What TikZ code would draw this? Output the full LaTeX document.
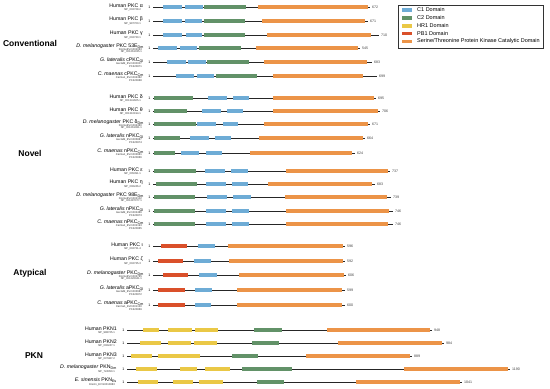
\documentclass[tikz,border=0pt]{standalone}
\usepackage{fontspec}
\setmainfont{Liberation Sans}
\definecolor{cC1}{RGB}{110,172,214}
\definecolor{cC2}{RGB}{98,146,104}
\definecolor{cHR}{RGB}{234,200,70}
\definecolor{cPB}{RGB}{218,80,42}
\definecolor{cKin}{RGB}{236,148,72}
\tikzset{
  bbline/.style={line width=0.75pt, black!85},
  nm/.style={anchor=east, font=\fontsize{5.2}{6}\selectfont, inner sep=0},
  acc/.style={anchor=east, font=\fontsize{2.7}{3}\selectfont, inner sep=0, text=black!80},
  num/.style={anchor=west, font=\fontsize{3.6}{4}\selectfont, inner sep=0, text=black!75},
  one/.style={anchor=east, font=\fontsize{3.6}{4}\selectfont, inner sep=0},
  sect/.style={font=\bfseries\fontsize{8.5}{10}\selectfont, inner sep=0},
  legtext/.style={anchor=west, font=\fontsize{5.5}{6}\selectfont, inner sep=0},
}
% backbone: id, y, xstart, xend, length
\newcommand\prot[5]{%
  \draw[bbline] (#3,#2) -- (#4,#2);
  \node[one] (#1one) at (#3-2.5,#2) {1};
  \node[num] (#1len) at (#4+2,#2) {#5};}
% domain: colour, y, x1, x2
\newcommand\dom[4]{\fill[#1] (#3,#2-1.85) rectangle (#4,#2+1.85);}
% two-line label
\newcommand\hlab[5]{%
  \node[nm] (#1n) at (#2,#3-1.6) {#4};
  \node[acc] (#1a) at (#2-2,#3+2.6) {#5};}
% three-line label
\newcommand\tlab[6]{%
  \node[nm] (#1n) at (#2,#3-2.2) {#4};
  \node[acc] (#1a) at (#2-2,#3+1.6) {#5};
  \node[acc] (#1b) at (#2-2,#3+4.3) {#6};}
\begin{document}
\begin{tikzpicture}[x=1pt,y=-1pt]
\useasboundingbox (0,0) rectangle (550,389);
% section titles
\node[sect] (sConv) at (30,43) {Conventional};
\node[sect] (sNov) at (30,153) {Novel};
\node[sect] (sAty) at (30,273) {Atypical};
\node[sect] (sPKN) at (34,356) {PKN};
% ---------------- Conventional
\hlab{r1}{143}{7}{Human PKC α}{NP\_002728.2}
\prot{r1}{7}{153}{370}{672}
\dom{cC1}{7}{163}{182}\dom{cC1}{7}{185}{203}\dom{cC2}{7}{204}{246}\dom{cKin}{7}{258}{368}
\hlab{r2}{143}{21}{Human PKC β}{NP\_997700.1}
\prot{r2}{21}{153}{368}{671}
\dom{cC1}{21}{163}{182}\dom{cC1}{21}{185}{202}\dom{cC2}{21}{204}{245}\dom{cKin}{21}{262}{365}
\hlab{r3}{143}{35}{Human PKC γ}{NP\_002730.1}
\prot{r3}{35}{153}{379}{710}
\dom{cC1}{35}{163}{182}\dom{cC1}{35}{186}{202}\dom{cC2}{35}{204}{245}\dom{cKin}{35}{267}{371}
\tlab{r4}{144}{48}{\textit{D. melanogaster} PKC 53E\textsubscript{Dm}}{DromeEVm002083}{NP\_001261035.1}
\prot{r4}{48}{153}{360}{545}
\dom{cC1}{48}{158}{177}\dom{cC1}{48}{180}{197}\dom{cC2}{48}{199}{241}\dom{cKin}{48}{256}{358}
\tlab{r5}{144}{62}{\textit{G. lateralis} cPKC\textsubscript{Gl}}{GeclaM\_EVm000007}{PX420871}
\prot{r5}{62}{153}{372}{683}
\dom{cC1}{62}{167}{186}\dom{cC1}{62}{188}{206}\dom{cC2}{62}{207}{249}\dom{cKin}{62}{264}{367}
\tlab{r6}{144}{76}{\textit{C. maenas} cPKC\textsubscript{Cm}}{Carma1\_EVm004382}{PX420868}
\prot{r6}{76}{153}{377}{699}
\dom{cC1}{76}{176}{194}\dom{cC1}{76}{197}{214}\dom{cC2}{76}{216}{257}\dom{cKin}{76}{273}{363}
% ---------------- Novel
\hlab{r7}{143}{98}{Human PKC δ}{NP\_001341605.1}
\prot{r7}{98}{153}{376}{695}
\dom{cC2}{98}{154}{193}\dom{cC1}{98}{208}{227}\dom{cC1}{98}{233}{249}\dom{cKin}{98}{273}{374}
\hlab{r8}{143}{111}{Human PKC θ}{NP\_001310194.1}
\prot{r8}{111}{153}{380}{706}
\dom{cC2}{111}{154}{187}\dom{cC1}{111}{202}{221}\dom{cC1}{111}{227}{243}\dom{cKin}{111}{273}{378}
\tlab{r9}{144}{124}{\textit{D. melanogaster} PKC δ\textsubscript{Dm}}{DromeEVm004380}{NP\_001261081.1}
\prot{r9}{124}{153}{370}{671}
\dom{cC2}{124}{154}{196}\dom{cC1}{124}{197}{216}\dom{cC1}{124}{223}{238}\dom{cKin}{124}{264}{368}
\tlab{r10}{144}{138}{\textit{G. lateralis} nPKC\textsubscript{Gl}}{GeclaM\_EVm005887}{PX420874}
\prot{r10}{138}{153}{365}{664}
\dom{cC2}{138}{154}{180}\dom{cC1}{138}{190}{209}\dom{cC1}{138}{215}{231}\dom{cKin}{138}{259}{363}
\tlab{r11}{144}{153}{\textit{C. maenas} nPKC\textsubscript{Cm}}{Carma1\_EVm003681}{PX420866}
\prot{r11}{153}{153}{355}{624}
\dom{cC2}{153}{154}{175}\dom{cC1}{153}{181}{199}\dom{cC1}{153}{206}{222}\dom{cKin}{153}{250}{352}
\hlab{r12}{143}{171}{Human PKC ε}{NP\_005391.1}
\prot{r12}{171}{153}{390}{737}
\dom{cC2}{171}{154}{196}\dom{cC1}{171}{205}{225}\dom{cC1}{171}{231}{248}\dom{cKin}{171}{286}{388}
\hlab{r13}{143}{184}{Human PKC η}{NP\_006246.2}
\prot{r13}{184}{153}{375}{683}
\dom{cC2}{184}{156}{197}\dom{cC1}{184}{206}{226}\dom{cC1}{184}{232}{248}\dom{cKin}{184}{268}{372}
\tlab{r14}{144}{197}{\textit{D. melanogaster} PKC 98E\textsubscript{Dm}}{DromeEVm002102}{NP\_001287077.1}
\prot{r14}{197}{153}{391}{739}
\dom{cC2}{197}{154}{195}\dom{cC1}{197}{207}{227}\dom{cC1}{197}{233}{251}\dom{cKin}{197}{285}{387}
\tlab{r15}{144}{211}{\textit{G. lateralis} nPKC\textsubscript{Gl}}{GeclaM\_EVm002486}{PX420873}
\prot{r15}{211}{153}{393}{746}
\dom{cC2}{211}{154}{195}\dom{cC1}{211}{206}{226}\dom{cC1}{211}{232}{249}\dom{cKin}{211}{286}{389}
\tlab{r16}{144}{224}{\textit{C. maenas} nPKC\textsubscript{Cm}}{Carma1\_EVm002193}{PX420865}
\prot{r16}{224}{153}{393}{746}
\dom{cC2}{224}{154}{195}\dom{cC1}{224}{206}{226}\dom{cC1}{224}{232}{249}\dom{cKin}{224}{286}{388}
% ---------------- Atypical
\hlab{r17}{143}{246}{Human PKC ι}{NP\_002731.4}
\prot{r17}{246}{153}{345}{596}
\dom{cPB}{246}{161}{187}\dom{cC1}{246}{198}{215}\dom{cKin}{246}{228}{343}
\hlab{r18}{143}{261}{Human PKC ζ}{NP\_002735.3}
\prot{r18}{261}{153}{345}{592}
\dom{cPB}{261}{158}{183}\dom{cC1}{261}{194}{211}\dom{cKin}{261}{229}{343}
\tlab{r19}{144}{275}{\textit{D. melanogaster} PKC\textsubscript{Dm}}{DromeEVm002785}{NP\_001226041.1}
\prot{r19}{275}{153}{346}{606}
\dom{cPB}{275}{163}{188}\dom{cC1}{275}{199}{217}\dom{cKin}{275}{239}{344}
\tlab{r20}{144}{290}{\textit{G. lateralis} aPKC\textsubscript{Gl}}{GeclaM\_EVm003687}{PX420872}
\prot{r20}{290}{153}{345}{599}
\dom{cPB}{290}{158}{185}\dom{cC1}{290}{195}{212}\dom{cKin}{290}{237}{342}
\tlab{r21}{144}{305}{\textit{C. maenas} aPKC\textsubscript{Cm}}{Carma1\_EVm001130}{PX420869}
\prot{r21}{305}{153}{345}{600}
\dom{cPB}{305}{158}{185}\dom{cC1}{305}{195}{211}\dom{cKin}{305}{237}{342}
% ---------------- PKN
\hlab{r22}{117}{330}{Human PKN1}{NP\_998725.1}
\prot{r22}{330}{127}{432}{948}
\dom{cHR}{330}{143}{159}\dom{cHR}{330}{168}{192}\dom{cHR}{330}{195}{218}\dom{cC2}{330}{254}{282}\dom{cKin}{330}{327}{430}
\hlab{r23}{117}{343}{Human PKN2}{NP\_006247.1}
\prot{r23}{343}{127}{444}{984}
\dom{cHR}{343}{140}{161}\dom{cHR}{343}{168}{191}\dom{cHR}{343}{194}{217}\dom{cC2}{343}{252}{279}\dom{cKin}{343}{338}{442}
\hlab{r24}{117}{356}{Human PKN3}{NP\_037487.2}
\prot{r24}{356}{127}{412}{889}
\dom{cHR}{356}{131}{152}\dom{cHR}{356}{158}{200}\dom{cC2}{356}{232}{258}\dom{cKin}{356}{306}{410}
\hlab{r25}{117}{369}{\textit{D. melanogaster} PKN\textsubscript{Dm}}{NP\_724350.1}
\prot{r25}{369}{127}{510}{1190}
\dom{cHR}{369}{136}{157}\dom{cHR}{369}{180}{197}\dom{cHR}{369}{205}{230}\dom{cC2}{369}{242}{292}\dom{cKin}{369}{404}{508}
\hlab{r26}{117}{382}{\textit{E. sinensis} PKN\textsubscript{Es}}{Ersin1\_EVm0010883}
\prot{r26}{382}{127}{462}{1041}
\dom{cHR}{382}{138}{158}\dom{cHR}{382}{173}{193}\dom{cHR}{382}{199}{223}\dom{cC2}{382}{257}{284}\dom{cKin}{382}{356}{460}
% ---------------- Legend
\draw[line width=0.5pt, black!80] (398,5) rectangle (543,48);
\fill[cC1] (402,8.3) rectangle (412,11.7);  \node[legtext] (l1) at (417,10) {C1 Domain};
\fill[cC2] (402,16.3) rectangle (412,19.7); \node[legtext] (l2) at (417,18) {C2 Domain};
\fill[cHR] (402,24.3) rectangle (412,27.7); \node[legtext] (l3) at (417,26) {HR1 Domain};
\fill[cPB] (402,31.8) rectangle (412,35.2); \node[legtext] (l4) at (417,33.5) {PB1 Domain};
\fill[cKin] (402,39.8) rectangle (412,43.2); \node[legtext] (l5) at (417,41.5) {Serine/Threonine Protein Kinase Catalytic Domain};
\end{tikzpicture}
\end{document}
